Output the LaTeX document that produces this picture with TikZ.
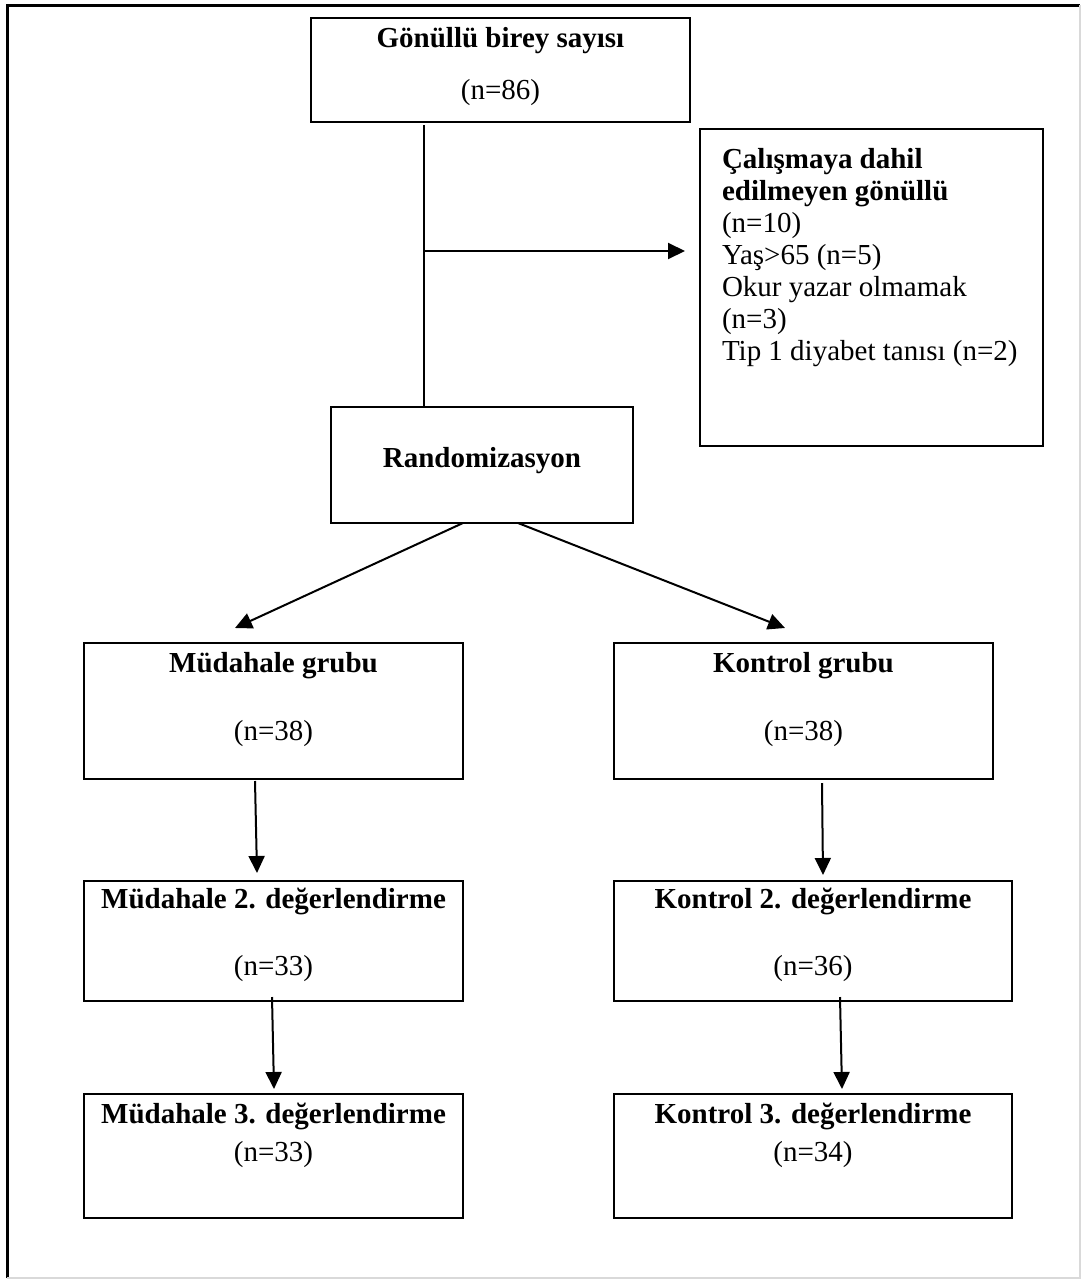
\documentclass[tikz,border=0pt]{standalone}
\usepackage{fontspec}
\setmainfont{Liberation Serif}
\usepackage{tikz}
\usetikzlibrary{arrows.meta}

% kutu icerigi: genislik, yukseklik, ilk satir, metin
\newcommand{\icerik}[4]{\parbox[c][#2][t]{#1}{\centering\rule{0pt}{#3}#4}}

\begin{document}
\begin{tikzpicture}[
    x=0.5pt, y=-0.5pt,
    kutu/.style={rectangle, draw=black, line width=0.8pt, inner sep=0pt, outer sep=0pt, anchor=north west, font=\fontsize{14.5}{16}\selectfont},
    ok/.style={-{Triangle[length=8.5pt,width=8pt]}, line width=1pt}
]
\useasboundingbox (0,0) rectangle (1082,1280);
\draw[line width=1.5pt] (7,1278) -- (7,5) -- (1080,5);
\draw[black!15, line width=0.6pt] (1080,5) -- (1080,1278) -- (7,1278);

\node (gonullu) [kutu] at (311,18) {\icerik{189.5pt}{52pt}{14.5pt}{\textbf{Gönüllü birey sayısı}\\[10pt](n=86)}};
\node (haric) [kutu] at (700,129) {\parbox[c][158.5pt][t]{171.5pt}{\leftskip=11pt\rule{0pt}{19.5pt}\textbf{Çalışmaya dahil}\\
    \textbf{edilmeyen gönüllü}\\ (n=10)\\ Yaş>65 (n=5)\\ Okur yazar olmamak\\ (n=3)\\ Tip 1 diyabet tanısı (n=2)}};
\node (random) [kutu] at (331,407) {\icerik{151pt}{58pt}{30pt}{\textbf{Randomizasyon}}};

\node (mgrup) [kutu] at (84,643) {\icerik{189.5pt}{68pt}{14.5pt}{\textbf{Müdahale grubu}\\[18pt](n=38)}};
\node (kgrup) [kutu] at (614,643) {\icerik{189.5pt}{68pt}{14.5pt}{\textbf{Kontrol grubu}\\[18pt](n=38)}};
\node (mdeg2) [kutu] at (84,881) {\icerik{189.5pt}{60pt}{13.5pt}{\textbf{Müdahale 2. değerlendirme}\\[17.5pt](n=33)}};
\node (kdeg2) [kutu] at (614,881) {\icerik{199pt}{60pt}{13.5pt}{\textbf{Kontrol 2. değerlendirme}\\[17.5pt](n=36)}};
\node (mdeg3) [kutu] at (84,1094) {\icerik{189.5pt}{62pt}{14.5pt}{\textbf{Müdahale 3. değerlendirme}\\[3pt](n=33)}};
\node (kdeg3) [kutu] at (614,1094) {\icerik{199pt}{62pt}{14.5pt}{\textbf{Kontrol 3. değerlendirme}\\[3pt](n=34)}};

% dallanma noktasi
\coordinate (ayrim) at (424,251);
\draw[line width=1pt] ([yshift=-1.5pt]ayrim |- gonullu.south) -- (ayrim |- random.north);
\draw[ok] (ayrim) -- ([xshift=-7.5pt]ayrim -| haric.west);

\draw[ok] ([xshift=-9.5pt]random.south) -- ([xshift=75.5pt,yshift=7.5pt]mgrup.north west);
\draw[ok] ([xshift=18pt]random.south) -- ([xshift=85.5pt,yshift=7.5pt]kgrup.north west);

\draw[ok] ([xshift=-9.25pt,yshift=-1pt]mgrup.south) -- ([xshift=-8.25pt,yshift=4pt]mdeg2.north);
\draw[ok] ([xshift=9.25pt,yshift=-2pt]kgrup.south) -- ([xshift=5pt,yshift=3pt]kdeg2.north);
\draw[ok] ([xshift=-0.75pt,yshift=2pt]mdeg2.south) -- ([xshift=0.25pt,yshift=2.5pt]mdeg3.north);
\draw[ok] ([xshift=13.5pt,yshift=2pt]kdeg2.south) -- ([xshift=14.5pt,yshift=2.5pt]kdeg3.north);
\end{tikzpicture}
\end{document}
